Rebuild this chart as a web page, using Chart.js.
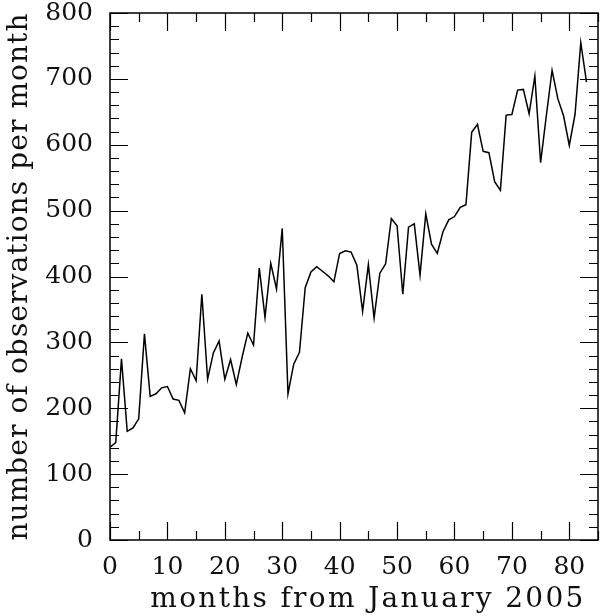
<!DOCTYPE html>
<html>
<head>
<meta charset="utf-8">
<script src="https://cdn.jsdelivr.net/npm/chart.js@4/dist/chart.umd.min.js"></script>
<style>
  html, body { margin: 0; padding: 0; background: #fff; }
  #wrap { width: 600px; height: 616px; }
</style>
</head>
<body>
<div id="wrap"><canvas id="myChart" width="600" height="616"></canvas></div>
<script>
// observations per month (month 0 = January 2005)
const counts = [
  141, 148, 275, 165, 170, 184, 313, 218, 222, 231,
  233, 214, 212, 193, 260, 242, 373, 244, 284, 302,
  244, 274, 236, 277, 314, 296, 413, 338, 420, 381,
  473, 222, 267, 285, 383, 407, 415, 408, 401, 392,
  435, 439, 437, 417, 347, 418, 337, 405, 419, 488,
  477, 373, 475, 480, 402, 495, 449, 435, 468, 486,
  491, 505, 509, 619, 631, 590, 588, 544, 531, 645,
  646, 683, 684, 647, 704, 573, 644, 713, 670, 644,
  599, 646, 755, 695
];
const months = counts.map((c, i) => i);

const xTickLabels = [0, 10, 20, 30, 40, 50, 60, 70, 80];
const yTickLabels = [0, 100, 200, 300, 400, 500, 600, 700, 800];
const xMinorStep = 5;
const yMinorStep = 20;

const font = "'DejaVu Serif', 'Liberation Serif', serif";
const titleSpacing = { x: '2.3px', y: '1.1px' };
const titleShift = { x: [14, 2], y: [0, 0] };

// wider letter spacing (and a small nudge) for the axis titles
const spacedTitles = {
  id: 'spacedTitles',
  beforeDraw(chart) {
    for (const id of ['x', 'y']) {
      const s = chart.scales[id];
      if (s._spaced) continue;
      const orig = s.drawTitle.bind(s);
      s.drawTitle = function () {
        chart.ctx.save();
        chart.ctx.letterSpacing = titleSpacing[id];
        chart.ctx.translate(titleShift[id][0], titleShift[id][1]);
        orig();
        chart.ctx.restore();
      };
      s._spaced = true;
    }
  }
};

// frame and inward ticks on all four sides
const frameTicks = {
  id: 'frameTicks',
  afterDraw(chart) {
    const ctx = chart.ctx;
    const a = chart.chartArea;
    const xs = chart.scales.x, ys = chart.scales.y;
    ctx.save();
    ctx.strokeStyle = '#000';
    ctx.lineWidth = 1.2;
    ctx.beginPath();
    for (let v = xs.min; v <= xs.max; v += xMinorStep) {
      const px = Math.round(xs.getPixelForValue(v)) + 0.5;
      const len = xTickLabels.includes(v) ? 18 : 9;
      ctx.moveTo(px, a.bottom); ctx.lineTo(px, a.bottom - len);
      ctx.moveTo(px, a.top); ctx.lineTo(px, a.top + len);
    }
    for (let v = ys.min; v <= ys.max; v += yMinorStep) {
      const py = Math.round(ys.getPixelForValue(v)) + 0.5;
      const len = yTickLabels.includes(v) ? 18 : 9;
      ctx.moveTo(a.left, py); ctx.lineTo(a.left + len, py);
      ctx.moveTo(a.right, py); ctx.lineTo(a.right - len, py);
    }
    ctx.stroke();
    ctx.lineWidth = 1.5;
    ctx.strokeRect(a.left, a.top, a.right - a.left, a.bottom - a.top);
    ctx.restore();
  }
};

let ctx = document.getElementById('myChart').getContext('2d');
let myChart = new Chart(ctx, {
  type: 'line',
  data: {
    labels: months,
    datasets: [{
      label: 'observations',
      data: months.map((m, i) => ({x: m, y: counts[i]})),
      borderColor: '#000',
      borderWidth: 1.5,
      pointRadius: 0,
      tension: 0,
      fill: false
    }]
  },
  options: {
    responsive: false,
    animation: false,
    layout: { padding: { top: 13, right: 2, left: 0, bottom: 0 } },
    plugins: { legend: { display: false }, tooltip: { enabled: false } },
    scales: {
      x: {
        type: 'linear',
        min: 0,
        max: 85,
        grid: { display: false, drawTicks: false },
        border: { display: false },
        afterBuildTicks: s => { s.ticks = xTickLabels.map(v => ({value: v})); },
        afterFit: s => { s.height = 76; s.paddingLeft = 0; s.paddingRight = 0; },
        ticks: { padding: 12, color: '#111', maxRotation: 0, font: { family: font, size: 25 } },
        title: {
          display: true,
          text: 'months from January 2005',
          color: '#111',
          padding: { top: 0, bottom: 1 },
          font: { family: font, size: 28 }
        }
      },
      y: {
        min: 0,
        max: 800,
        grid: { display: false, drawTicks: false },
        border: { display: false },
        afterBuildTicks: s => { s.ticks = yTickLabels.map(v => ({value: v})); },
        afterFit: s => { s.width = 110; s.paddingTop = 0; s.paddingBottom = 0; },
        ticks: { padding: 17, color: '#111', font: { family: font, size: 25 } },
        title: {
          display: true,
          text: 'number of observations per month',
          color: '#111',
          padding: { top: 3, bottom: 0 },
          font: { family: font, size: 28 }
        }
      }
    }
  },
  plugins: [spacedTitles, frameTicks]
});
</script>
</body>
</html>
